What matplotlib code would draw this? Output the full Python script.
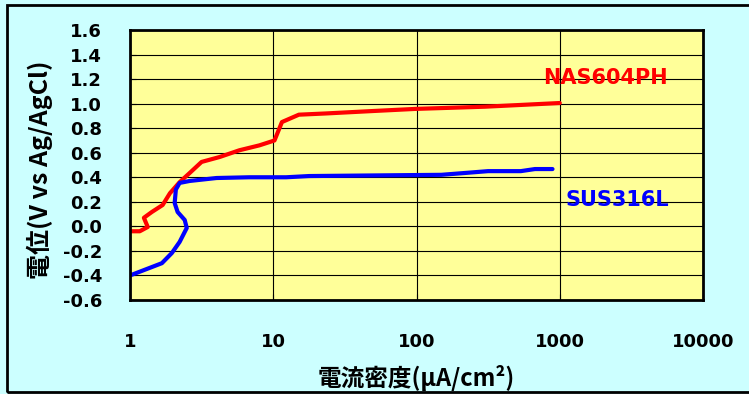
import matplotlib
matplotlib.use('Agg')
import matplotlib.pyplot as plt
from matplotlib.patches import Rectangle

# NAS604PH polarization curve (current density uA/cm2, potential V)
nas_i = [1.0, 1.17, 1.33, 1.25, 1.42, 1.69, 1.90, 2.22, 2.61, 3.16, 4.22, 5.8, 8.0, 10.2, 11.5, 15.1, 23.3, 50, 98, 300, 1000]
nas_v = [-0.04, -0.04, -0.005, 0.07, 0.117, 0.174, 0.27, 0.36, 0.435, 0.525, 0.565, 0.62, 0.66, 0.70, 0.85, 0.91, 0.92, 0.94, 0.957, 0.975, 1.005]

# SUS316L polarization curve
sus_i = [1.0, 1.67, 1.96, 2.22, 2.49, 2.41, 2.15, 2.05, 2.09, 2.22, 2.61, 4.02, 6.8, 12.3, 17.8, 149, 218, 316, 535, 671, 890]
sus_v = [-0.40, -0.30, -0.217, -0.127, -0.013, 0.052, 0.117, 0.19, 0.30, 0.354, 0.37, 0.394, 0.40, 0.40, 0.41, 0.42, 0.435, 0.45, 0.45, 0.467, 0.467]

y_ticks = [-0.6, -0.4, -0.2, 0.0, 0.2, 0.4, 0.6, 0.8, 1.0, 1.2, 1.4, 1.6]
x_ticks = [1, 10, 100, 1000, 10000]

jp = ['Noto Sans CJK JP', 'DejaVu Sans']

fig = plt.figure(figsize=(7.49, 3.94), dpi=100, facecolor='#CCFFFF')
W, H = 749, 394
ax = fig.add_axes([130 / W, 1 - 300 / H, 573 / W, 270 / H])
ax.set_facecolor('#FFFF99')

ax.plot(nas_i, nas_v, color='#FF0000', lw=3, solid_capstyle='round')
ax.plot(sus_i, sus_v, color='#0000FF', lw=3, solid_capstyle='round')

ax.set_xscale('log')
ax.set_xlim(1, 10000)
ax.set_ylim(-0.6, 1.6)
ax.set_xticks(x_ticks)
ax.set_xticklabels([str(t) for t in x_ticks])
ax.minorticks_off()
ax.set_yticks(y_ticks)
ax.set_yticklabels(['%.1f' % t for t in y_ticks])
ax.grid(True, color='black', lw=0.8)
ax.set_axisbelow(True)
for s in ax.spines.values():
    s.set_linewidth(2)
ax.tick_params(axis='x', direction='in', length=4, pad=24, labelsize=13)
ax.tick_params(axis='y', direction='in', length=4, pad=20, labelsize=13)
for lab in ax.get_xticklabels() + ax.get_yticklabels():
    lab.set_fontweight('bold')
    lab.set_fontfamily('DejaVu Sans')

ax.text(2090, 1.21, 'NAS604PH', color='#FF0000', fontsize=15, fontweight='bold',
        family='DejaVu Sans', ha='center', va='center')
ax.text(2520, 0.215, 'SUS316L', color='#0000FF', fontsize=15, fontweight='bold',
        family='DejaVu Sans', ha='center', va='center')

fig.text(40 / W, 1 - 170 / H, '電位(V vs Ag/AgCl)', rotation=90, ha='center', va='center',
         fontsize=18, fontweight='bold', family=jp)
fig.text(416 / W, 1 - 378 / H, '電流密度(μA/cm²)', ha='center', va='center',
         fontsize=17, fontweight='bold', family=jp)

fig.patches.append(Rectangle((7 / W, 2 / H), 760 / W, 387 / H, transform=fig.transFigure,
                             fill=False, edgecolor='black', lw=2))

fig.savefig('out.png', dpi=100, facecolor=fig.get_facecolor())
